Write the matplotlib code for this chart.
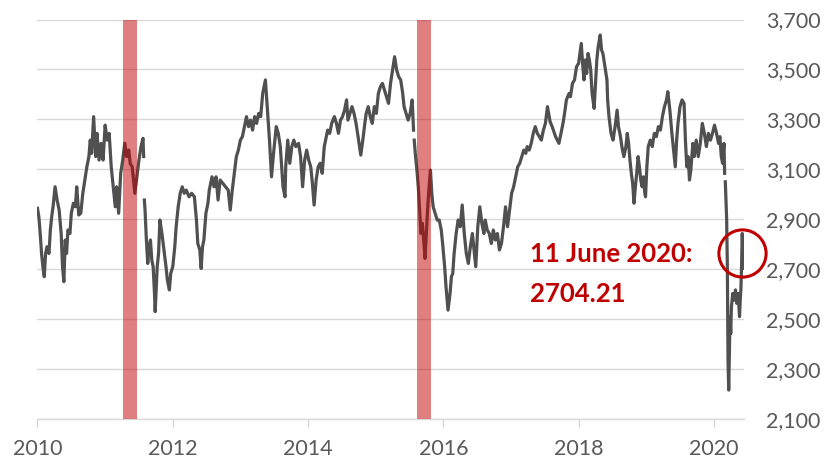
import numpy as np
import matplotlib
matplotlib.use("Agg")
import matplotlib.pyplot as plt
from matplotlib.ticker import FuncFormatter

nan = float("nan")

# ---- data ----
years = [
    2010.00, 2010.02, 2010.04, 2010.06, 2010.08, 2010.10, 2010.12, 2010.14, 2010.17, 2010.19,
    2010.21, 2010.23, 2010.26, 2010.29, 2010.32, 2010.35, 2010.37, 2010.39, 2010.41, 2010.43,
    2010.45, 2010.48, 2010.50, 2010.53, 2010.56, 2010.58, 2010.61, 2010.64, 2010.67, 2010.70,
    2010.73, 2010.76, 2010.78, 2010.80, 2010.83, 2010.86, 2010.88, 2010.91, 2010.94, 2010.97,
    2011.00, 2011.03, 2011.06, 2011.09, 2011.12, 2011.15, 2011.17, 2011.20, 2011.23, 2011.26,
    2011.29, 2011.32, 2011.35, 2011.37, 2011.40, 2011.42, 2011.44, 2011.47, 2011.50, 2011.53,
    2011.56, 2011.57, 2011.575, 2011.58, 2011.59, 2011.61, 2011.63, 2011.65, 2011.67, 2011.69,
    2011.71, 2011.73, 2011.74, 2011.77, 2011.79, 2011.81, 2011.84, 2011.87, 2011.90, 2011.92,
    2011.95, 2011.97, 2012.00, 2012.03, 2012.05, 2012.08, 2012.11, 2012.14, 2012.17, 2012.20,
    2012.24, 2012.28, 2012.32, 2012.35, 2012.37, 2012.40, 2012.42, 2012.44, 2012.46, 2012.49,
    2012.52, 2012.54, 2012.58, 2012.61, 2012.64, 2012.67, 2012.70, 2012.74, 2012.78, 2012.82,
    2012.85, 2012.88, 2012.91, 2012.94, 2012.97, 2013.00, 2013.03, 2013.06, 2013.09, 2013.12,
    2013.15, 2013.18, 2013.21, 2013.24, 2013.27, 2013.30, 2013.33, 2013.37, 2013.39, 2013.41,
    2013.43, 2013.46, 2013.49, 2013.53, 2013.56, 2013.59, 2013.63, 2013.66, 2013.67, 2013.70,
    2013.73, 2013.76, 2013.79, 2013.82, 2013.86, 2013.89, 2013.92, 2013.95, 2013.98, 2014.01,
    2014.04, 2014.06, 2014.09, 2014.12, 2014.15, 2014.18, 2014.21, 2014.24, 2014.27, 2014.29,
    2014.32, 2014.35, 2014.39, 2014.42, 2014.45, 2014.48, 2014.51, 2014.54, 2014.57, 2014.59,
    2014.62, 2014.65, 2014.68, 2014.71, 2014.74, 2014.78, 2014.81, 2014.84, 2014.86, 2014.89,
    2014.92, 2014.95, 2014.98, 2015.01, 2015.04, 2015.07, 2015.10, 2015.13, 2015.16, 2015.19,
    2015.22, 2015.25, 2015.28, 2015.31, 2015.34, 2015.37, 2015.40, 2015.42, 2015.45, 2015.48,
    2015.51, 2015.54, 2015.56, 2015.565, 2015.57, 2015.59, 2015.61, 2015.63, 2015.65, 2015.67,
    2015.69, 2015.71, 2015.73, 2015.75, 2015.77, 2015.79, 2015.81, 2015.83, 2015.85, 2015.88,
    2015.91, 2015.94, 2015.97, 2015.99, 2016.02, 2016.04, 2016.07, 2016.10, 2016.12, 2016.14,
    2016.16, 2016.19, 2016.22, 2016.25, 2016.28, 2016.31, 2016.34, 2016.37, 2016.40, 2016.43,
    2016.46, 2016.48, 2016.51, 2016.54, 2016.57, 2016.60, 2016.62, 2016.65, 2016.68, 2016.71,
    2016.74, 2016.77, 2016.80, 2016.83, 2016.86, 2016.89, 2016.92, 2016.95, 2016.98, 2017.01,
    2017.04, 2017.07, 2017.10, 2017.13, 2017.16, 2017.19, 2017.22, 2017.24, 2017.27, 2017.30,
    2017.33, 2017.36, 2017.39, 2017.42, 2017.45, 2017.48, 2017.51, 2017.54, 2017.58, 2017.61,
    2017.66, 2017.71, 2017.74, 2017.77, 2017.80, 2017.82, 2017.86, 2017.88, 2017.91, 2017.94,
    2017.97, 2018.00, 2018.02, 2018.04, 2018.06, 2018.08, 2018.10, 2018.12, 2018.14, 2018.16,
    2018.18, 2018.20, 2018.23, 2018.25, 2018.27, 2018.29, 2018.32, 2018.34, 2018.36, 2018.39,
    2018.42, 2018.43, 2018.45, 2018.48, 2018.51, 2018.54, 2018.57, 2018.59, 2018.62, 2018.64,
    2018.67, 2018.70, 2018.72, 2018.74, 2018.76, 2018.78, 2018.80, 2018.82, 2018.84, 2018.86,
    2018.88, 2018.90, 2018.92, 2018.94, 2018.96, 2018.98, 2018.99, 2019.01, 2019.03, 2019.06,
    2019.09, 2019.12, 2019.15, 2019.18, 2019.21, 2019.24, 2019.27, 2019.30, 2019.32, 2019.35,
    2019.38, 2019.41, 2019.43, 2019.45, 2019.47, 2019.50, 2019.53, 2019.56, 2019.58, 2019.60,
    2019.62, 2019.64, 2019.66, 2019.69, 2019.71, 2019.74, 2019.77, 2019.80, 2019.83, 2019.86,
    2019.89, 2019.92, 2019.95, 2019.98, 2020.01, 2020.04, 2020.07, 2020.09, 2020.11, 2020.13,
    2020.15, 2020.16, 2020.165, 2020.17, 2020.18, 2020.19, 2020.20, 2020.205, 2020.21, 2020.22,
    2020.23, 2020.24, 2020.25, 2020.26, 2020.28, 2020.30, 2020.32, 2020.34, 2020.36, 2020.38,
    2020.39, 2020.40, 2020.41, 2020.42, 2020.44,
]

index_values = [
    2944, 2910, 2843, 2763, 2710, 2670, 2763, 2790, 2763, 2857,
    2910, 2950, 3030, 2977, 2937, 2843, 2710, 2650, 2817, 2763,
    2857, 2843, 2924, 2964, 2950, 3030, 2917, 2924, 3004, 3057,
    3110, 3151, 3217, 3164, 3311, 3151, 3244, 3137, 3204, 3137,
    3277, 3217, 3244, 3110, 3030, 2950, 3030, 2924, 3084, 3137,
    3204, 3151, 3177, 3124, 3110, 3057, 3004, 3070, 3137, 3191,
    3224, 3151, nan, 2977, 2937, 2817, 2723, 2790, 2817, 2737,
    2710, 2603, 2530, 2710, 2763, 2897, 2843, 2777, 2710, 2657,
    2617, 2683, 2710, 2790, 2870, 2950, 3004, 3030, 3004, 3017,
    2990, 3004, 2990, 2897, 2803, 2777, 2703, 2790, 2817, 2924,
    2964, 3017, 3070, 3030, 3070, 2977, 3057, 3044, 3030, 3017,
    2937, 3017, 3084, 3151, 3177, 3217, 3231, 3271, 3311, 3271,
    3297, 3257, 3311, 3284, 3324, 3311, 3404, 3458, 3378, 3297,
    3217, 3070, 3164, 3271, 3244, 3191, 3030, 2990, 3110, 3217,
    3124, 3191, 3217, 3191, 3204, 3151, 3030, 3137, 3177, 3137,
    3110, 3057, 2957, 3057, 3110, 3124, 3084, 3191, 3231, 3257,
    3244, 3284, 3311, 3284, 3244, 3297, 3311, 3337, 3378, 3297,
    3324, 3351, 3324, 3284, 3231, 3157, 3217, 3284, 3324, 3351,
    3311, 3284, 3351, 3324, 3404, 3431, 3444, 3418, 3391, 3364,
    3444, 3498, 3551, 3498, 3471, 3458, 3404, 3351, 3324, 3297,
    3324, 3378, 3257, nan, 3217, 3151, 3097, 3030, 2937, 2843,
    2884, 2817, 2743, 2843, 2950, 3030, 3097, 3004, 2950, 2924,
    2897, 2897, 2857, 2803, 2710, 2630, 2536, 2603, 2670, 2683,
    2763, 2843, 2897, 2870, 2957, 2843, 2763, 2723, 2790, 2843,
    2763, 2710, 2870, 2950, 2884, 2843, 2897, 2857, 2843, 2803,
    2857, 2817, 2843, 2777, 2803, 2870, 2950, 2870, 2937, 3004,
    3030, 3070, 3110, 3124, 3151, 3177, 3164, 3191, 3177, 3204,
    3244, 3271, 3244, 3231, 3217, 3257, 3284, 3351, 3290, 3271,
    3231, 3204, 3244, 3284, 3337, 3378, 3404, 3391, 3444, 3458,
    3511, 3524, 3564, 3604, 3524, 3458, 3538, 3484, 3564, 3538,
    3498, 3404, 3344, 3444, 3538, 3591, 3638, 3578, 3564, 3511,
    3458, 3378, 3311, 3244, 3217, 3271, 3337, 3271, 3231, 3191,
    3151, 3191, 3244, 3204, 3137, 3084, 3044, 2964, 3030, 3084,
    3151, 3110, 3057, 3030, 3070, 3004, 2990, 3110, 3191, 3217,
    3191, 3244, 3231, 3271, 3257, 3311, 3351, 3378, 3411, 3337,
    3244, 3164, 3110, 3217, 3284, 3351, 3378, 3364, 3217, 3110,
    3151, 3057, 3097, 3204, 3151, 3217, 3151, 3204, 3284, 3244,
    3191, 3244, 3217, 3244, 3277, 3244, 3204, 3231, 3151, 3124,
    3204, 3084, nan, 3050, 2977, 2897, 2710, 2510, 2336, 2216,
    2376, 2510, 2443, 2550, 2603, 2576, 2617, 2563, 2603, 2510,
    2576, 2617, 2710, 2843, 2704.21,
]

band_starts = [2011.27, 2015.61]
band_ends = [2011.47, 2015.82]

y_ticks = [2100, 2300, 2500, 2700, 2900, 3100, 3300, 3500, 3700]
x_ticks = [2010, 2012, 2014, 2016, 2018, 2020]

annotation_lines = ["11 June 2020:", "2704.21"]
circle_year = 2020.41
circle_value = 2765

# ---- styling ----
plt.rcParams["font.family"] = ["Lato", "DejaVu Sans"]
LINE_COLOR = "#505050"
GRID_COLOR = "#d9d9d9"
TEXT_COLOR = "#595959"
RED = "#C00000"

fig = plt.figure(figsize=(8.37, 4.59), dpi=100)
ax = fig.add_axes([0.0448, 0.0871, 0.8444, 0.8704])

x = np.array(years, dtype=float)
y = np.array(index_values, dtype=float)
assert len(x) == len(y)

ax.plot(x, y, color=LINE_COLOR, lw=2.3, zorder=3, solid_joinstyle="round")

for s, e in zip(band_starts, band_ends):
    ax.axvspan(s, e, color=RED, alpha=0.5, lw=0, zorder=4)

ax.plot([circle_year], [circle_value], marker="o", markersize=34,
        markerfacecolor="none", markeredgecolor=RED, markeredgewidth=2.2,
        zorder=6, clip_on=False)

ax.text(0.697, 0.392, annotation_lines[0], transform=ax.transAxes,
        color=RED, fontsize=18.5, fontweight="bold", va="baseline", ha="left")
ax.text(0.697, 0.294, annotation_lines[1], transform=ax.transAxes,
        color=RED, fontsize=18.5, fontweight="bold", va="baseline", ha="left")

ax.set_xlim(2010, 2020.45)
ax.set_ylim(2100, 3700)
ax.set_yticks(y_ticks)
ax.set_xticks(x_ticks)
ax.set_xticklabels([str(t) for t in x_ticks])
ax.yaxis.set_major_formatter(FuncFormatter(lambda v, p: f"{int(v):,}"))

ax.yaxis.tick_right()
ax.grid(axis="y", color=GRID_COLOR, lw=1.0, zorder=0)
ax.set_axisbelow(True)
for side in ["top", "left", "right"]:
    ax.spines[side].set_visible(False)
ax.spines["bottom"].set_color(GRID_COLOR)
ax.spines["bottom"].set_linewidth(1.0)
ax.spines["bottom"].set_zorder(1)

ax.tick_params(axis="y", length=0, pad=16, labelsize=15.5, labelcolor=TEXT_COLOR)
ax.tick_params(axis="x", length=5.5, width=1.0, color=GRID_COLOR, pad=9,
               labelsize=15.5, labelcolor=TEXT_COLOR)

fig.savefig("out.png", dpi=100)
